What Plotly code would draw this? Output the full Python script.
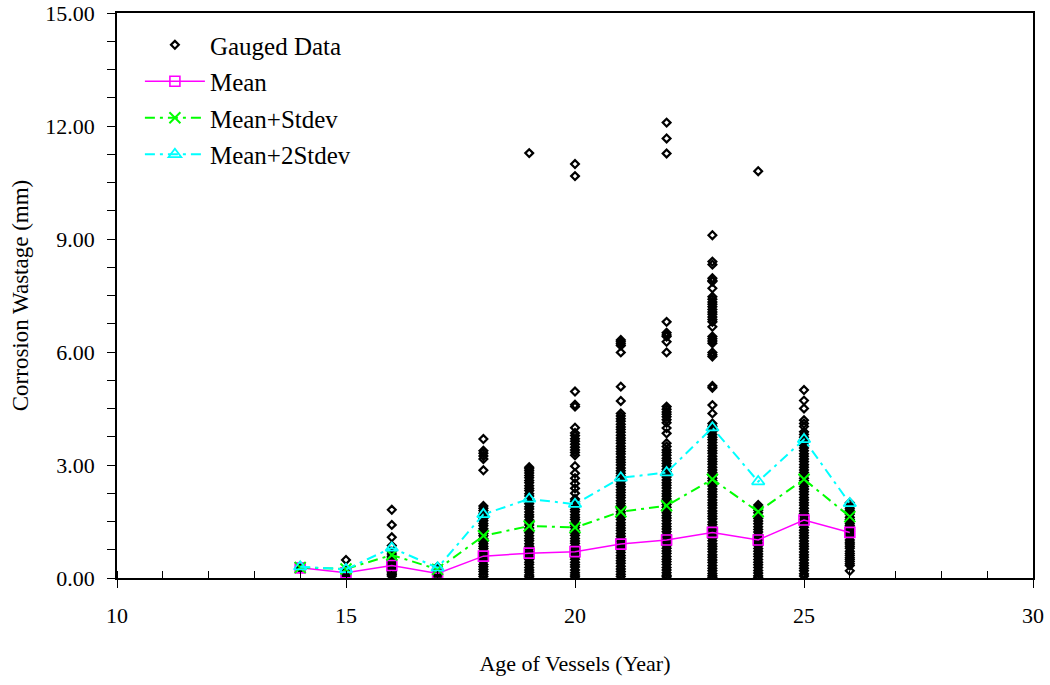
import plotly.graph_objects as go

# Ages (years) at which summary statistics were computed
ages = [14, 15, 16, 17, 18, 19, 20, 21, 22, 23, 24, 25, 26]

# Summary statistics of corrosion wastage (mm) per age
mean_vals = [0.27, 0.14, 0.33, 0.12, 0.58, 0.66, 0.70, 0.90, 1.01, 1.21, 1.01, 1.54, 1.21]
mean_sd_vals = [0.28, 0.24, 0.61, 0.23, 1.12, 1.38, 1.34, 1.76, 1.92, 2.62, 1.76, 2.62, 1.63]
mean_2sd_vals = [0.30, 0.23, 0.80, 0.27, 1.69, 2.10, 1.96, 2.66, 2.80, 3.99, 2.56, 3.68, 1.98]

# Gauged thickness losses (mm) by vessel age
gauged_14 = [0.25, 0.28, 0.31]
gauged_15 = [0.48, 0.20, 0.15, 0.12, 0.08, 0.05]
gauged_16 = [1.81, 1.41, 1.08, 0.86, 0.70, 0.64, 0.58, 0.53, 0.47, 0.42, 0.37, 0.33,
             0.29, 0.25, 0.21, 0.17, 0.13, 0.09, 0.05]
gauged_17 = [0.30, 0.25, 0.21, 0.16, 0.12, 0.08, 0.04]
gauged_18 = [3.69, 3.38, 3.31, 3.24, 3.16, 2.86, 1.91, 1.85, 1.79, 1.72, 1.66, 1.58,
             1.52, 1.45, 1.39, 1.31, 1.25, 1.18, 1.12, 1.04, 0.97, 0.91, 0.84, 0.78,
             0.70, 0.64, 0.57, 0.50, 0.44, 0.36, 0.30, 0.23, 0.17, 0.10, 0.04]
gauged_19 = [11.28, 2.94, 2.90, 2.85, 2.79, 2.72, 2.66, 2.59, 2.53, 2.45, 2.38, 2.32,
             2.24, 2.18, 2.10, 2.03, 1.97, 1.89, 1.83, 1.75, 1.68, 1.62, 1.54, 1.47,
             1.41, 1.33, 1.26, 1.20, 1.12, 1.05, 0.99, 0.91, 0.84, 0.78, 0.70, 0.63,
             0.57, 0.49, 0.42, 0.36, 0.28, 0.21, 0.15, 0.08, 0.03]
gauged_20 = [10.99, 10.67, 4.95, 4.60, 4.55, 3.99, 3.85, 3.78, 3.70, 3.63, 3.55, 3.47,
             3.40, 3.33, 3.26, 2.97, 2.78, 2.65, 2.51, 2.38, 2.25, 2.10, 2.04, 1.97,
             1.89, 1.82, 1.76, 1.68, 1.61, 1.55, 1.47, 1.40, 1.34, 1.26, 1.19, 1.13,
             1.05, 0.98, 0.92, 0.84, 0.77, 0.71, 0.63, 0.56, 0.50, 0.42, 0.35, 0.29,
             0.21, 0.14, 0.08, 0.03]
gauged_21 = [6.32, 6.27, 6.22, 6.17, 5.99, 5.08, 4.70, 4.37, 4.30, 4.23, 4.16, 4.08,
             4.01, 3.94, 3.87, 3.79, 3.72, 3.65, 3.58, 3.50, 3.43, 3.36, 3.29, 3.21,
             3.14, 3.07, 3.00, 2.92, 2.85, 2.78, 2.71, 2.63, 2.56, 2.49, 2.42, 2.34,
             2.27, 2.20, 2.13, 2.05, 1.98, 1.91, 1.84, 1.76, 1.69, 1.62, 1.55, 1.47,
             1.40, 1.33, 1.26, 1.18, 1.11, 1.04, 0.97, 0.89, 0.82, 0.75, 0.68, 0.60,
             0.53, 0.46, 0.39, 0.31, 0.24, 0.17, 0.10, 0.04]
gauged_22 = [12.09, 11.67, 11.27, 6.80, 6.51, 6.45, 6.41, 6.27, 5.99, 4.55, 4.48, 4.41,
             4.35, 4.28, 4.20, 4.12, 3.98, 3.84, 3.58, 3.49, 3.40, 3.33, 3.26, 3.18,
             3.11, 3.04, 2.97, 2.89, 2.82, 2.75, 2.68, 2.60, 2.53, 2.46, 2.39, 2.31,
             2.24, 2.17, 2.10, 2.02, 1.95, 1.88, 1.81, 1.73, 1.66, 1.59, 1.52, 1.44,
             1.37, 1.30, 1.23, 1.15, 1.08, 1.01, 0.94, 0.86, 0.79, 0.72, 0.65, 0.57,
             0.50, 0.43, 0.36, 0.28, 0.21, 0.14, 0.07, 0.03]
gauged_23 = [9.10, 8.40, 8.32, 7.96, 7.90, 7.87, 7.69, 7.47, 7.40, 7.33, 7.27, 7.20,
             7.13, 7.06, 7.00, 6.93, 6.86, 6.80, 6.67, 6.41, 6.35, 6.29, 6.23, 5.99,
             5.93, 5.88, 5.10, 5.05, 4.59, 4.37, 4.10, 4.03, 3.96, 3.89, 3.81, 3.74,
             3.67, 3.60, 3.52, 3.45, 3.38, 3.31, 3.23, 3.16, 3.09, 3.02, 2.94, 2.87,
             2.80, 2.73, 2.65, 2.58, 2.51, 2.44, 2.36, 2.29, 2.22, 2.15, 2.07, 2.00,
             1.93, 1.86, 1.78, 1.71, 1.64, 1.57, 1.49, 1.42, 1.35, 1.28, 1.20, 1.13,
             1.06, 0.99, 0.91, 0.84, 0.77, 0.70, 0.62, 0.55, 0.48, 0.41, 0.33, 0.26,
             0.19, 0.12, 0.06, 0.02]
gauged_24 = [10.80, 1.94, 1.87, 1.80, 1.73, 1.65, 1.58, 1.51, 1.44, 1.36, 1.29, 1.22,
             1.15, 1.07, 1.00, 0.93, 0.86, 0.78, 0.71, 0.64, 0.57, 0.49, 0.42, 0.35,
             0.28, 0.20, 0.13, 0.06, 0.02]
gauged_25 = [4.99, 4.71, 4.50, 4.19, 4.10, 4.02, 3.88, 3.81, 3.74, 3.67, 3.59, 3.52,
             3.45, 3.38, 3.30, 3.23, 3.16, 3.09, 3.01, 2.94, 2.87, 2.80, 2.72, 2.65,
             2.58, 2.51, 2.43, 2.36, 2.29, 2.22, 2.14, 2.07, 2.00, 1.93, 1.85, 1.78,
             1.71, 1.64, 1.56, 1.49, 1.42, 1.35, 1.27, 1.20, 1.13, 1.06, 0.98, 0.91,
             0.84, 0.77, 0.69, 0.62, 0.55, 0.48, 0.40, 0.33, 0.26, 0.19, 0.11, 0.05]
gauged_26 = [2.00, 1.91, 1.85, 1.80, 1.74, 1.69, 1.61, 1.55, 1.50, 1.44, 1.39, 1.34,
             1.29, 1.24, 1.19, 1.14, 1.09, 1.01, 0.95, 0.90, 0.84, 0.79, 0.71, 0.65,
             0.60, 0.54, 0.49, 0.44, 0.38, 0.33, 0.19]

gauged_by_age = [gauged_14, gauged_15, gauged_16, gauged_17, gauged_18, gauged_19,
                 gauged_20, gauged_21, gauged_22, gauged_23, gauged_24, gauged_25,
                 gauged_26]

scatter_x = []
scatter_y = []
for age, vals in zip(ages, gauged_by_age):
    scatter_x.extend([age] * len(vals))
    scatter_y.extend(vals)

FONT = "Liberation Serif, Times New Roman, serif"

fig = go.Figure()

fig.add_trace(go.Scatter(
    x=scatter_x, y=scatter_y, mode="markers", name="Gauged Data",
    legendgroup="g1",
    marker=dict(symbol="diamond-open", size=6, color="black",
                line=dict(width=2.2, color="black")),
))
fig.add_trace(go.Scatter(
    x=ages, y=mean_vals, mode="lines+markers", name="Mean",
    legendgroup="g2",
    line=dict(color="#FF00FF", width=1.5),
    marker=dict(symbol="square-open", size=10, color="#FF00FF",
                line=dict(width=1.6, color="#FF00FF")),
))
fig.add_trace(go.Scatter(
    x=ages, y=mean_sd_vals, mode="lines+markers", name="Mean+Stdev",
    legendgroup="g3",
    line=dict(color="#00FF00", width=2, dash="10px,5px,3px,5px"),
    marker=dict(symbol="x-thin-open", size=11, color="#00FF00",
                line=dict(width=2, color="#00FF00")),
))
fig.add_trace(go.Scatter(
    x=ages, y=mean_2sd_vals, mode="lines+markers", name="Mean+2Stdev",
    legendgroup="g4",
    line=dict(color="#00FFFF", width=2, dash="10px,5px,3px,5px"),
    marker=dict(symbol="triangle-up-open", size=11, color="#00FFFF",
                line=dict(width=1.8, color="#00FFFF")),
))

fig.update_layout(
    width=1050, height=685,
    margin=dict(l=117, r=17, t=13, b=107, autoexpand=False),
    paper_bgcolor="white", plot_bgcolor="white",
    font=dict(family=FONT, size=22, color="black"),
    showlegend=True,
    legend=dict(
        x=0.025, y=0.984, xanchor="left", yanchor="top",
        bgcolor="rgba(0,0,0,0)", borderwidth=0,
        font=dict(family=FONT, size=25, color="black"),
        itemwidth=60, tracegroupgap=1,
    ),
)

fig.update_xaxes(
    range=[10, 30], tickmode="linear", tick0=10, dtick=5,
    ticks="outside", ticklen=8, tickwidth=1, tickcolor="black",
    ticklabelstandoff=9,
    minor=dict(tickmode="linear", tick0=10, dtick=1, ticks="inside",
               ticklen=7, tickwidth=1, tickcolor="black"),
    showgrid=False, zeroline=False, automargin=False,
    showline=True, linecolor="black", linewidth=2, mirror=True,
    tickfont=dict(family=FONT, size=22, color="black"),
    title=dict(text="Age of Vessels (Year)", standoff=28,
               font=dict(family=FONT, size=22, color="black")),
)
fig.update_yaxes(
    range=[0, 15], tickmode="linear", tick0=0, dtick=3, tickformat=".2f",
    ticks="outside", ticklen=8, tickwidth=1, tickcolor="black",
    ticklabelstandoff=8,
    minor=dict(tickmode="linear", tick0=0, dtick=0.75, ticks="outside",
               ticklen=8, tickwidth=1, tickcolor="black"),
    showgrid=False, zeroline=False, automargin=False,
    showline=True, linecolor="black", linewidth=1.5, mirror=True,
    tickfont=dict(family=FONT, size=22, color="black"),
    title=dict(text="Corrosion Wastage (mm)", standoff=10,
               font=dict(family=FONT, size=23, color="black")),
)

fig.write_html("out.html")
